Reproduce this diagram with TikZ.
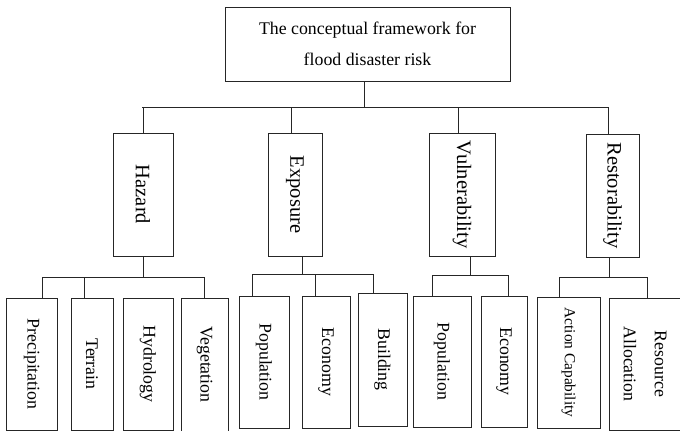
\documentclass[tikz,border=0pt]{standalone}
\usepackage{fontspec}
\setmainfont{Liberation Serif}
\usepackage{graphicx}
\usepackage{pgf,tikz}
\tikzset{
  blk/.style={draw=black!85, line width=0.7pt, inner sep=0pt, align=center},
  rootbox/.style={blk, font=\fontsize{17.8}{31}\selectfont},
  catbox/.style={blk, minimum height=123, font=\fontsize{20.5}{24}\selectfont},
  leafbox/.style={blk, minimum height=132, font=\fontsize{17.8}{31}\selectfont},
  link/.style={draw=black!85, line width=0.7pt}
}
\newcommand{\vtext}[1]{\rotatebox{-90}{#1}}

\begin{document}
\begin{tikzpicture}[x=1pt,y=-1pt]%[line cap=round,line join=round]
\useasboundingbox (0,0) rectangle (680,431);
\node [rootbox, minimum width=285, minimum height=74] (root) at (367.5,44) {The conceptual framework for\\flood disaster risk};

\node [catbox, minimum width=60] (haz) at (143,194.5) {\vtext{Hazard}};
\node [catbox, minimum width=54] (exp) at (295,194.5) {\vtext{Exposure}};
\node [catbox, minimum width=66] (vul) at (462,194.5) {\vtext{Vulnerability}};
\node [catbox, minimum width=53] (rst) at (612.5,195.5) {\vtext{Restorability}};

\node [leafbox, minimum width=51] (prec) at (31.5,364) {\vtext{Precipitation}};
\node [leafbox, minimum width=42] (terr) at (92,364) {\vtext{Terrain}};
\node [leafbox, minimum width=50] (hydr) at (148,364) {\vtext{Hydrology}};
\node [leafbox, minimum width=47, minimum height=133] (veg) at (204.5,364.5) {\vtext{Vegetation}};
\node [leafbox, minimum width=50] (pop) at (264,362) {\vtext{Population}};
\node [leafbox, minimum width=48] (eco) at (326,362) {\vtext{Economy}};
\node [leafbox, minimum width=49, minimum height=133] (bld) at (382.5,359.5) {\vtext{Building}};
\node [leafbox, minimum width=58, minimum height=131] (pop2) at (442,361.5) {\vtext{Population}};
\node [leafbox, minimum width=46, minimum height=131] (eco2) at (504,361.5) {\vtext{Economy}};
\node [leafbox, minimum width=63, minimum height=131, font=\fontsize{15.4}{31}\selectfont] (act) at (568.5,362.5) {\vtext{Action Capability}};
\node [leafbox, minimum width=73] (rsc) at (645.5,364) {\vtext{\begin{tabular}{@{}c@{}}Resource\\Allocation\end{tabular}}};

\coordinate (bar0) at (142,107);
\coordinate (bar1) at (42,277);
\coordinate (bar2) at (252,274);
\coordinate (bar3) at (432,275);
\coordinate (bar4) at (559,277);

\draw [link] (bar0) -- (608,107);
\draw [link] ([xshift=-3.5]root.south) -- ([xshift=-3.5]root.south |- bar0);
\draw [link] (haz.north) -- (haz.north |- bar0);
\draw [link] ([xshift=-4]exp.north) -- ([xshift=-4]exp.north |- bar0);
\draw [link] ([xshift=-4]vul.north) -- ([xshift=-4]vul.north |- bar0);
\draw [link] ([xshift=-4.5]rst.north) -- ([xshift=-4.5]rst.north |- bar0);

\draw [link] (bar1) -- (204,277);
\draw [link] (haz.south) -- (haz.south |- bar1);
\draw [link] ([xshift=10.5]prec.north) -- ([xshift=10.5]prec.north |- bar1);
\draw [link] ([xshift=-8]terr.north) -- ([xshift=-8]terr.north |- bar1);
\draw [link] (veg.north) -- (veg.north |- bar1);

\draw [link] (bar2) -- (373,274);
\draw [link] ([xshift=7]exp.south) -- ([xshift=7]exp.south |- bar2);
\draw [link] ([xshift=-12]pop.north) -- ([xshift=-12]pop.north |- bar2);
\draw [link] ([xshift=-11]eco.north) -- ([xshift=-11]eco.north |- bar2);
\draw [link] ([xshift=-9.5]bld.north) -- ([xshift=-9.5]bld.north |- bar2);

\draw [link] (bar3) -- (508,275);
\draw [link] ([xshift=8]vul.south) -- ([xshift=8]vul.south |- bar3);
\draw [link] ([xshift=-10]pop2.north) -- ([xshift=-10]pop2.north |- bar3);
\draw [link] ([xshift=4]eco2.north) -- ([xshift=4]eco2.north |- bar3);

\draw [link] (bar4) -- (647,277);
\draw [link] ([xshift=-3.5]rst.south) -- ([xshift=-3.5]rst.south |- bar4);
\draw [link] ([xshift=-9.5]act.north) -- ([xshift=-9.5]act.north |- bar4);
\draw [link] ([xshift=1.5]rsc.north) -- ([xshift=1.5]rsc.north |- bar4);
\end{tikzpicture}
\end{document}
